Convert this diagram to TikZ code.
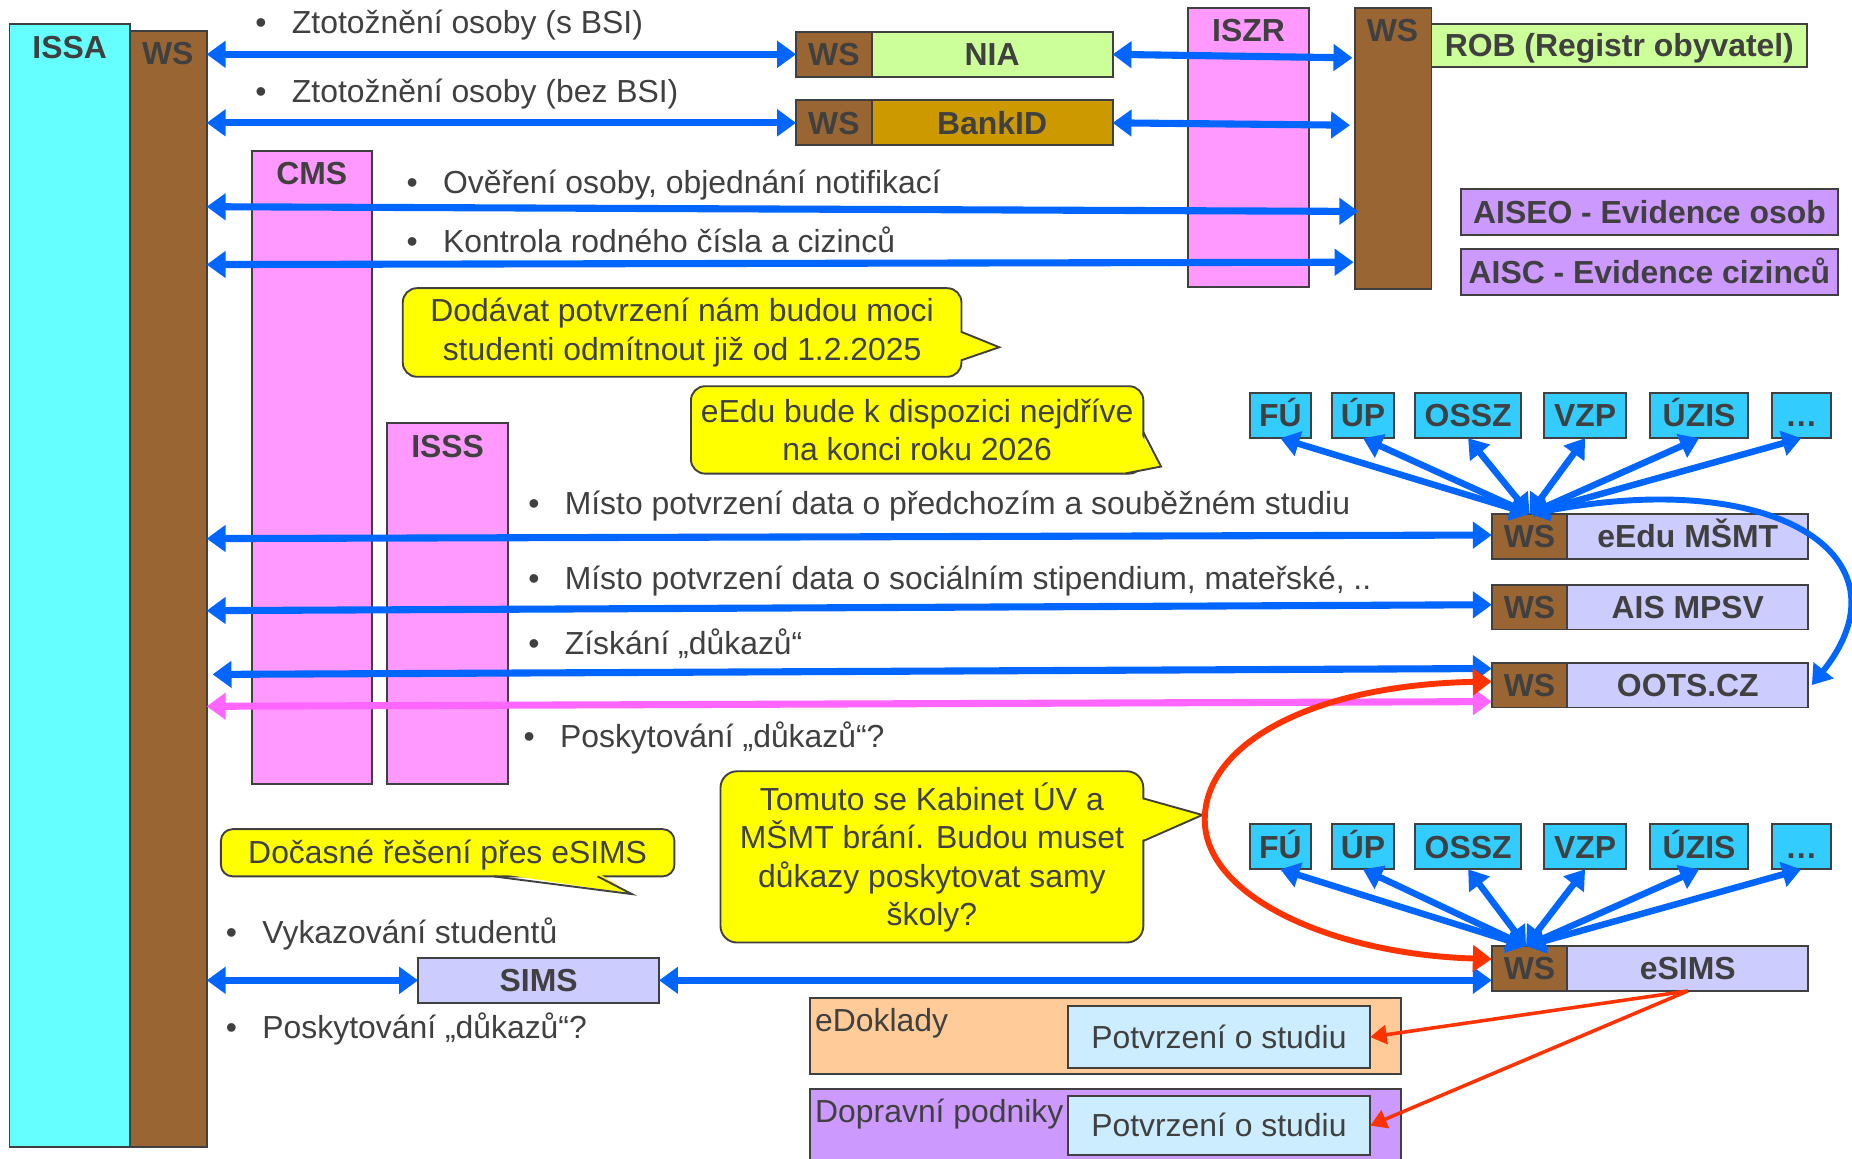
\documentclass[tikz,border=0pt]{standalone}
\usepackage{fontspec}
\setmainfont{Liberation Sans}
\usetikzlibrary{arrows.meta}
\definecolor{cyanA}{HTML}{66FFFF}
\definecolor{brownA}{HTML}{996633}
\definecolor{pinkA}{HTML}{FF99FF}
\definecolor{greenA}{HTML}{CCFF99}
\definecolor{goldA}{HTML}{CC9900}
\definecolor{lavA}{HTML}{CCCCFF}
\definecolor{purpA}{HTML}{CC99FF}
\definecolor{skyA}{HTML}{33CCFF}
\definecolor{yelA}{HTML}{FFFF00}
\definecolor{peachA}{HTML}{FFCC99}
\definecolor{lblueA}{HTML}{CCECFF}
\definecolor{arrB}{HTML}{0066FF}
\definecolor{arrP}{HTML}{FF66FF}
\definecolor{arrR}{HTML}{FF3300}
\definecolor{bordA}{HTML}{404040}
\definecolor{txtA}{HTML}{404040}
\newcommand\LblFont{\fontsize{27}{32}\selectfont\bfseries}
\newcommand\TxtFont{\fontsize{27}{32.5}\selectfont}
\newcommand\Bx[8][]{\node[bx,fill=#3,minimum width={#6pt-#4pt},minimum height={#7pt-#5pt},#1] (#2) at ({(#4+#6)/2},{(#5+#7)/2}) {#8};}
\tikzset{
  bx/.style={draw=bordA, line width=1.6pt, inner sep=0pt, outer sep=0pt, text=txtA, font=\LblFont, text height=19pt, text depth=0pt},
  reg/.style={font=\TxtFont},
  lbltxt/.style={text=txtA, font=\LblFont, inner sep=0pt, text height=19pt, text depth=0pt},
  txtn/.style={text=txtA, font=\TxtFont, inner sep=0pt},
  callout/.style={draw=bordA, line width=1.6pt, fill=yelA},
  cedge/.style={draw=bordA, line width=1.6pt, line join=miter},
  tipA/.tip={Triangle[length=16pt,width=22pt]},
  tipF/.tip={Triangle[length=16pt,width=21pt]},
  tipR/.tip={Triangle[length=14pt,width=16pt]},
  barr/.style={draw=arrB, line width=6pt, arrows={tipA-tipA}},
  parr/.style={draw=arrP, line width=6pt, arrows={tipA-tipA}},
  fanarr/.style={draw=arrB, line width=5.5pt, arrows={tipF-tipF}},
  rarr/.style={draw=arrR, line width=5pt, arrows={tipA-tipA}},
  rthin/.style={draw=arrR, line width=3pt, arrows={-tipR}},
}
\begin{document}
\begin{tikzpicture}[x=1pt,y=-1pt]
\fill[white] (0,0) rectangle (1568,981);
\useasboundingbox (0,0) rectangle (1568,981);

% left column
\Bx{issa}{cyanA}{8}{20}{110}{971}{}
\Bx{ws0}{brownA}{110}{26}{175}{971}{}
\node[lbltxt] (issaL) at (59,40) {ISSA};
\node[lbltxt] (ws0L) at (142,45) {WS};
\Bx{cms}{pinkA}{213}{128}{315}{664}{}
\node[lbltxt] (cmsL) at (264,147) {CMS};
\Bx{isss}{pinkA}{328}{358}{430}{664}{}
\node[lbltxt] (isssL) at (379,378) {ISSS};

% top right
\Bx{iszr}{pinkA}{1006}{7}{1108}{243}{}
\node[lbltxt] (iszrL) at (1057,26) {ISZR};
\Bx{wsr}{brownA}{1147}{7}{1212}{245}{}
\node[lbltxt] (wsrL) at (1179,26) {WS};
\Bx{rob}{greenA}{1212}{20}{1530}{57}{ROB (Registr obyvatel)}
\Bx{wsnia}{brownA}{674}{27}{738}{65}{WS}
\Bx{nia}{greenA}{738}{27}{942}{65}{NIA}
\Bx{wsbank}{brownA}{674}{85}{738}{123}{WS}
\Bx{bank}{goldA}{738}{85}{942}{123}{BankID}
\Bx{aiseo}{purpA}{1237}{160}{1556}{199}{AISEO - Evidence osob}
\Bx{aisc}{purpA}{1237}{211}{1556}{250}{AISC - Evidence cizinců}

% fan boxes upper
\Bx{fuA}{skyA}{1058}{333}{1110}{371}{FÚ}
\Bx{upA}{skyA}{1128}{333}{1180}{371}{ÚP}
\Bx{osA}{skyA}{1198}{333}{1288}{371}{OSSZ}
\Bx{vzA}{skyA}{1307}{333}{1377}{371}{VZP}
\Bx{uzA}{skyA}{1397}{333}{1480}{371}{ÚZIS}
\Bx{dtA}{skyA}{1500}{333}{1550}{371}{…}
% fan boxes lower
\Bx{fuB}{skyA}{1058}{698}{1110}{736}{FÚ}
\Bx{upB}{skyA}{1128}{698}{1180}{736}{ÚP}
\Bx{osB}{skyA}{1198}{698}{1288}{736}{OSSZ}
\Bx{vzB}{skyA}{1307}{698}{1377}{736}{VZP}
\Bx{uzB}{skyA}{1397}{698}{1480}{736}{ÚZIS}
\Bx{dtB}{skyA}{1500}{698}{1550}{736}{…}

% right systems
\Bx{wsedu}{brownA}{1263}{435}{1327}{473}{WS}
\Bx{edu}{lavA}{1327}{435}{1531}{473}{eEdu MŠMT}
\Bx{wsmpsv}{brownA}{1263}{495}{1327}{533}{WS}
\Bx{mpsv}{lavA}{1327}{495}{1531}{533}{AIS MPSV}
\Bx{wsoots}{brownA}{1263}{561}{1327}{599}{WS}
\Bx{oots}{lavA}{1327}{561}{1531}{599}{OOTS.CZ}
\Bx{wsesims}{brownA}{1263}{801}{1327}{839}{WS}
\Bx{esims}{lavA}{1327}{801}{1531}{839}{eSIMS}
\Bx{sims}{lavA}{354}{811}{558}{849}{SIMS}

% bottom boxes
\Bx{edok}{peachA}{686}{845}{1186}{909}{}
\node[txtn, anchor=base west] (edokL) at (690,873) {eDoklady};
\Bx[reg]{potv1}{lblueA}{904}{852}{1160}{904}{Potvrzení o studiu}
\Bx{doprav}{purpA}{686}{922}{1186}{995}{}
\node[txtn, anchor=base west] (dopL) at (690,950) {Dopravní podniky};
\Bx[reg]{potv2}{lblueA}{904}{928}{1160}{978}{Potvrzení o studiu}

% callouts
\draw[callout, rounded corners=12pt] (341,244) rectangle (814,319);
\fill[yelA] (811,281) -- (846,294) -- (811,305) -- cycle;
\draw[cedge] (814,281) -- (846,294) -- (814,305);
\node[txtn, align=center] (c1) at (577.5,281.5) {Dodávat potvrzení nám budou moci\\studenti odmítnout již od 1.2.2025};

\draw[callout, rounded corners=12pt] (585,327) rectangle (968,401);
\fill[yelA] (965,366) -- (983,395) -- (952,401.5) -- (952,395) -- cycle;
\draw[cedge] (968,366) -- (983,395) -- (952,401);
\node[txtn, align=center] (c2) at (776.5,364) {eEdu bude k dispozici nejdříve\\na konci roku 2026};

\draw[callout, rounded corners=14pt] (610,653) rectangle (968,798);
\fill[yelA] (965,676) -- (1018,690) -- (965,712) -- cycle;
\draw[cedge] (968,676) -- (1018,690) -- (968,712);
\node[txtn, align=center] (c3) at (789,726) {Tomuto se Kabinet ÚV a\\MŠMT brání. Budou muset\\důkazy poskytovat samy\\školy?};

\draw[callout, rounded corners=10pt] (187,702) rectangle (571,742);
\fill[yelA] (418,739) -- (535,757) -- (506,739) -- cycle;
\draw[cedge] (418,742) -- (535,757) -- (506,742);
\node[txtn, text height=19pt, text depth=0pt] (c4) at (379,722) {Dočasné řešení přes eSIMS};

% bullet texts
\node[txtn, anchor=base west] (t1) at (247,28) {\llap{•\hspace{21.5pt}}Ztotožnění osoby (s BSI)};
\node[txtn, anchor=base west] (t2) at (247,87) {\llap{•\hspace{21.5pt}}Ztotožnění osoby (bez BSI)};
\node[txtn, anchor=base west] (t3) at (375,164) {\llap{•\hspace{21.5pt}}Ověření osoby, objednání notifikací};
\node[txtn, anchor=base west] (t4) at (375,214) {\llap{•\hspace{21.5pt}}Kontrola rodného čísla a cizinců};
\node[txtn, anchor=base west] (t5) at (478,436) {\llap{•\hspace{21.5pt}}Místo potvrzení data o předchozím a souběžném studiu};
\node[txtn, anchor=base west] (t6) at (478,499) {\llap{•\hspace{21.5pt}}Místo potvrzení data o sociálním stipendium, mateřské, ..};
\node[txtn, anchor=base west] (t7) at (478,554) {\llap{•\hspace{21.5pt}}Získání „důkazů“};
\node[txtn, anchor=base west] (t8) at (474,633) {\llap{•\hspace{21.5pt}}Poskytování „důkazů“?};
\node[txtn, anchor=base west] (t9) at (222,799) {\llap{•\hspace{21.5pt}}Vykazování studentů};
\node[txtn, anchor=base west] (t10) at (222,879) {\llap{•\hspace{21.5pt}}Poskytování „důkazů“?};

% arrows
\draw[barr] (ws0.east |- wsnia.west) -- (wsnia.west);
\draw[barr] (ws0.east |- wsbank.west) -- (wsbank.west);
\draw[barr] (nia.east) -- ([xshift=-2pt]wsr.west |- 0,49);
\draw[barr] (bank.east) -- ([xshift=-4pt]wsr.west |- 0,106);
\draw[barr] (ws0.east |- 0,175) -- ([xshift=3pt]wsr.west |- 0,179);
\draw[barr] (ws0.east |- 0,224) -- ([xshift=-1pt]wsr.west |- 0,222);
\draw[barr] (ws0.east |- 0,456) -- (wsedu.west |- 0,453);
\draw[barr] (ws0.east |- 0,517) -- (wsmpsv.west |- 0,512);
\draw[barr] ([xshift=5pt]ws0.east |- 0,571) -- (wsoots.west |- 0,566);
\draw[parr] (ws0.east |- 0,598) -- (wsoots.west |- 0,594);
\draw[barr] (ws0.east |- sims.west) -- (sims.west);
\draw[barr] (sims.east) -- (wsesims.west |- sims.east);

\foreach \n in {fuA,upA,osA,vzA,uzA,dtA} \draw[fanarr] (wsedu.north) -- (\n.south);
\foreach \n in {fuB,upB,osB,vzB,uzB,dtB} \draw[fanarr] ([xshift=-3pt]wsesims.north) -- (\n.south);

\draw[draw=arrB, line width=5pt, arrows={-tipF}] ([xshift=3pt]wsedu.north) .. controls (1500,392) and (1622,470) .. ([xshift=3pt]oots.east);

\draw[rarr] (wsoots.west |- 0,577) .. controls (1110,580) and (1020,630) .. (1020,694) .. controls (1020,760) and (1130,808) .. (wsesims.west |- 0,812);

\draw[rthin] (esims.south) -- (potv1.east);
\draw[rthin] (esims.south) -- (potv2.east);
\end{tikzpicture}
\end{document}
